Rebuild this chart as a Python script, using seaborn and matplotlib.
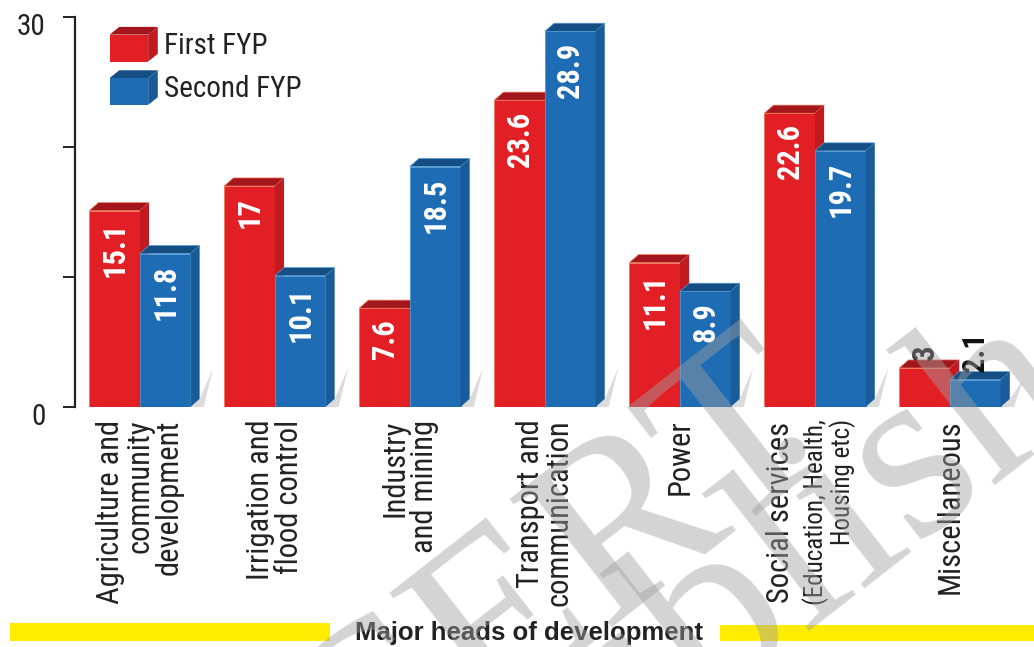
import pandas as pd
import matplotlib.pyplot as plt
import matplotlib.colors as mcolors
import matplotlib.transforms as mtransforms
from matplotlib import font_manager
from matplotlib.patches import Rectangle, Polygon
from matplotlib.legend_handler import HandlerBase
import seaborn as sns

# Data (share of plan outlay, %)
heads = [
    "Agriculture and\ncommunity\ndevelopment",
    "Irrigation and\nflood control",
    "Industry\nand mining",
    "Transport and\ncommunication",
    "Power",
    "Social services",
    "Miscellaneous",
]
first_fyp = [15.1, 17, 7.6, 23.6, 11.1, 22.6, 3]
second_fyp = [11.8, 10.1, 18.5, 28.9, 8.9, 19.7, 2.1]
plans = ["First FYP", "Second FYP"]
y_ticks = [0, 10, 20, 30]
y_ticklabels = ["0", "", "", "30"]

df = pd.DataFrame({
    "Head": heads * 2,
    "Plan": [plans[0]] * len(heads) + [plans[1]] * len(heads),
    "Share": first_fyp + second_fyp,
})

colors = {"First FYP": "#e31f26", "Second FYP": "#1d6cb4"}
edges = {"First FYP": "#f0785a", "Second FYP": "#4f9ad6"}


def shade(color, f):
    r, g, b = mcolors.to_rgb(color)
    return (r * f, g * f, b * f)


class BoxHandler(HandlerBase):
    # draws the legend key as a small 3D box
    def create_artists(self, legend, orig_handle, xdescent, ydescent,
                       width, height, fontsize, trans):
        fc = orig_handle.get_facecolor()
        d = 0.2 * width
        w = width - d
        h = height - 0.8 * d
        x0, y0 = -xdescent, -ydescent
        front = Rectangle((x0, y0), w, h, facecolor=fc, edgecolor="none", transform=trans)
        top = Polygon([(x0, y0 + h), (x0 + w, y0 + h), (x0 + w + d, y0 + h + 0.8 * d),
                       (x0 + d, y0 + h + 0.8 * d)], facecolor=shade(fc, 0.72),
                      edgecolor="none", transform=trans)
        side = Polygon([(x0 + w, y0), (x0 + w + d, y0 + 0.8 * d),
                        (x0 + w + d, y0 + h + 0.8 * d), (x0 + w, y0 + h)],
                       facecolor=shade(fc, 0.85), edgecolor="none", transform=trans)
        return [front, top, side]


# pick a condensed sans if one is around
avail = {f.name for f in font_manager.fontManager.ttflist}
cands = ["Roboto Condensed", "Arial Narrow", "Liberation Sans Narrow", "PT Sans Narrow",
         "Archivo Narrow", "Open Sans Condensed", "Fira Sans Condensed",
         "IBM Plex Sans Condensed", "Encode Sans Condensed", "Barlow Semi Condensed",
         "Liberation Sans"]
narrow_name = next((c for c in cands if c in avail), "DejaVu Sans")

sns.set_theme(style="white")
plt.rcParams["font.family"] = [narrow_name, "DejaVu Sans"]

fig = plt.figure(figsize=(10.34, 6.47), dpi=100)
ax = fig.add_axes([75 / 1034, 240 / 647, 956 / 1034, 390 / 647])

sns.barplot(data=df, x="Head", y="Share", hue="Plan", palette=colors,
            saturation=1, width=0.75, ax=ax, linewidth=0, zorder=2)

# 3D tops and sides from the bar geometry
dx, dy = 0.068, 0.62
for k, cont in enumerate(ax.containers):
    base_c = colors[plans[k]]
    for bar, val in zip(cont.patches, [first_fyp, second_fyp][k]):
        bar.set_zorder(2 + 2 * k)
        bar.set_edgecolor(edges[plans[k]])
        bar.set_linewidth(0.6)
        x0, w, h = bar.get_x(), bar.get_width(), bar.get_height()
        x1 = x0 + w
        top = Polygon([(x0, h), (x1, h), (x1 + dx, h + dy), (x0 + dx, h + dy)],
                      facecolor=shade(base_c, 0.72), edgecolor=edges[plans[k]],
                      linewidth=0.5, zorder=2.5 + 2 * k, clip_on=False)
        side = Polygon([(x1, 0), (x1 + dx, dy), (x1 + dx, h + dy), (x1, h)],
                       facecolor=shade(base_c, 0.85), edgecolor="none",
                       zorder=2.5 + 2 * k, clip_on=False)
        ax.add_patch(top)
        ax.add_patch(side)
        if k == 1:
            # soft drop shadow right of each group
            sh = Polygon([(x1, 0), (x1 + dx, dy), (x1 + dx + 0.1, min(h, 3.0)),
                          (x1 + dx + 0.03, 0)], facecolor="#9a9a9a", alpha=0.35,
                         edgecolor="none", zorder=1.5, clip_on=False)
            ax.add_patch(sh)
        lbl = f"{val:g}"
        if val >= 5:
            ax.annotate(lbl, (x0 + w / 2, h), xytext=(0, -8), textcoords="offset points",
                        rotation=90, ha="center", va="top", color="white",
                        fontsize=22, fontweight="bold", zorder=10)
        else:
            ax.annotate(lbl, (x0 + w / 2, h + dy), xytext=(0, 0), textcoords="offset points",
                        rotation=90, ha="center", va="bottom", color="#111111",
                        fontsize=22, fontweight="bold", zorder=10)

ax.set_xlim(-0.48, 6.6)
ax.set_ylim(0, 30)
ax.set_xlabel("")
ax.set_ylabel("")

for s in ["top", "right", "bottom"]:
    ax.spines[s].set_visible(False)
ax.spines["left"].set_color("#222222")
ax.spines["left"].set_linewidth(1.6)

ax.set_yticks(y_ticks)
ax.set_yticklabels(y_ticklabels, fontsize=21, color="#222222")
ax.tick_params(axis="y", which="major", left=True, length=9, width=1.4,
               color="#222222", pad=12)
shift = mtransforms.ScaledTranslation(0, -7 / 100, fig.dpi_scale_trans)
for t in ax.get_yticklabels():
    t.set_transform(t.get_transform() + shift)

tick_text = list(heads)
tick_text[5] = ""
ax.set_xticks(range(len(heads)))
ax.set_xticklabels(tick_text, rotation=90, ha="center", va="top",
                   multialignment="right", linespacing=1.0, fontsize=22, color="#222222")
ax.tick_params(axis="x", length=0, pad=9)

# Social services label has a smaller second part
ax.text(5, 0, "Social services", transform=mtransforms.offset_copy(
    ax.get_xaxis_transform(), fig=fig, x=-34, y=-15, units="dots"),
    rotation=90, ha="center", va="top", fontsize=22, color="#222222")
ax.text(5, 0, "(Education, Health,\nHousing etc)", transform=mtransforms.offset_copy(
    ax.get_xaxis_transform(), fig=fig, x=14, y=-12, units="dots"),
    rotation=90, ha="center", va="top", multialignment="right",
    fontsize=18, linespacing=0.98, color="#222222")

# legend with 3D boxes
old = ax.get_legend()
handles = old.legend_handles
labels = [t.get_text() for t in old.get_texts()]
old.remove()
ax.legend(handles, labels, handler_map={h: BoxHandler() for h in handles},
          loc="upper left", bbox_to_anchor=(0.021, 1.012), frameon=False,
          fontsize=21, handlelength=1.65, handleheight=1.45, handletextpad=0.2,
          labelspacing=0.3, borderpad=0, labelcolor="#222222")

# footer band
fig.patches.append(Rectangle((10 / 1034, 6 / 647), 320 / 1034, 18 / 647,
                             transform=fig.transFigure, facecolor="#ffec00",
                             edgecolor="none"))
fig.patches.append(Rectangle((720 / 1034, 6 / 647), 314 / 1034, 16 / 647,
                             transform=fig.transFigure, facecolor="#ffec00",
                             edgecolor="none"))
fig.text(529 / 1034, 14 / 647, "Major heads of development", ha="center", va="center",
         fontsize=18.5, fontweight="bold", color="#222222",
         family=["Liberation Sans", "DejaVu Sans"])

# faint watermark
wm = dict(rotation=38, rotation_mode="anchor", ha="center", va="center", fontsize=180,
          color="#a0a0a0", alpha=0.45, family=["Liberation Serif", "DejaVu Serif"], zorder=20)
fig.text(490 / 1034, 1 - 640 / 647, "NCERT", **wm)
fig.text(855 / 1034, 1 - 515 / 647, "published", **wm)

fig.savefig("out.png", dpi=100)
plt.close(fig)
